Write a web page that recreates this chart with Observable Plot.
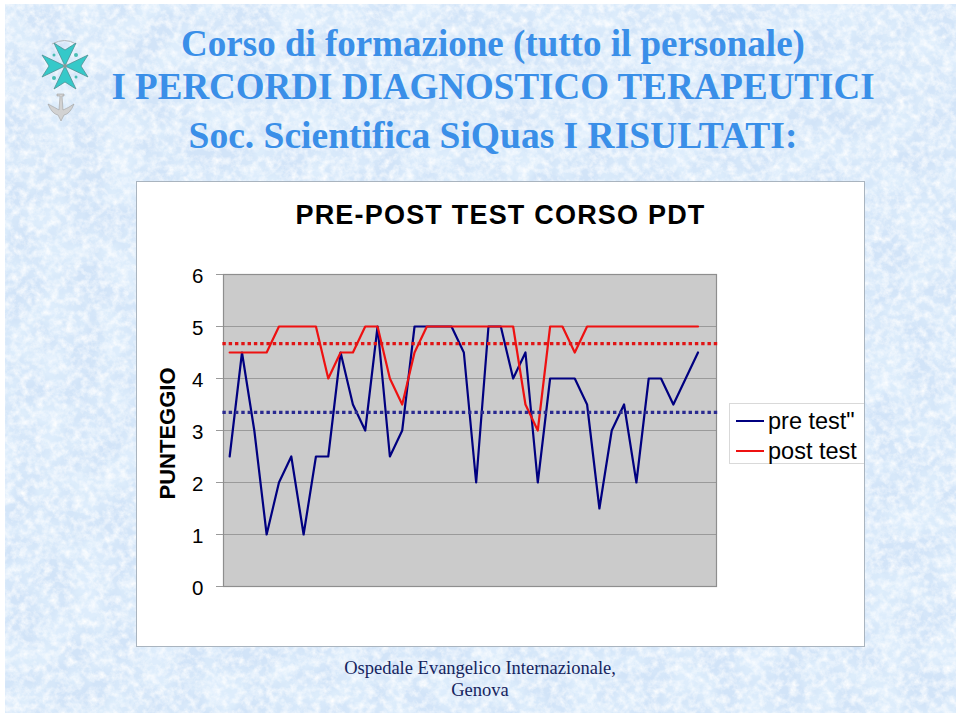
<!DOCTYPE html>
<html lang="it">
<head>
<meta charset="utf-8">
<script src="https://cdn.jsdelivr.net/npm/d3@7"></script>
<script src="https://cdn.jsdelivr.net/npm/@observablehq/plot@0.6"></script>
<style>
  html, body { margin: 0; padding: 0; background: #fff; }
  #page { position: relative; width: 960px; height: 716px; overflow: hidden; background: #fff; }
  #paper { position: absolute; left: 5px; top: 4px; }
  .head { position: absolute; left: 13px; width: 960px; text-align: center; white-space: nowrap;
          font-family: "Liberation Serif", serif; font-weight: bold; color: #3a8fe8; line-height: 1; }
  .foot { position: absolute; left: 0; width: 960px; text-align: center; white-space: nowrap;
          font-family: "Liberation Serif", serif; font-size: 18.5px; color: #16245e; line-height: 1; }
  #logo { position: absolute; left: 30px; top: 30px; }
  #box { position: absolute; left: 137px; top: 182px; width: 727px; height: 464px; background: #fff;
         box-shadow: 0 0 0 1px #a9b4bf; }
  #box svg { position: absolute; left: 0; top: 0; }
  #chartTitle { position: absolute; left: 0; top: 17px; width: 727px; text-align: center; letter-spacing: 1.2px;
         font: bold 27px "Liberation Sans", Arial, sans-serif; color: #000; line-height: 1.2; }
  #legend { position: absolute; left: 592px; top: 221px; width: 135px; height: 61px; background: #fff;
         border: 1px solid #d9d9d9; border-right: none; box-sizing: border-box; font: 23.5px "Liberation Sans", Arial, sans-serif; color: #000; }
  #legend div { position: absolute; left: 38px; line-height: 1; white-space: nowrap; }
  #legend i { position: absolute; left: 6px; width: 28px; height: 2px; }
</style>
</head>
<body>
<div id="page">
  <svg id="paper" width="951" height="709">
    <filter id="marble" x="0" y="0" width="100%" height="100%">
      <feTurbulence type="fractalNoise" baseFrequency="0.13" numOctaves="4" seed="7"/>
      <feColorMatrix type="matrix" values="0 0 0 0 1  0 0 0 0 1  0 0 0 0 1  1.7 0 0 0 -0.62"/>
    </filter>
    <filter id="blotch" x="0" y="0" width="100%" height="100%">
      <feTurbulence type="fractalNoise" baseFrequency="0.03" numOctaves="4" seed="19"/>
      <feColorMatrix type="matrix" values="0 0 0 0 0.73  0 0 0 0 0.85  0 0 0 0 0.97  0 2.6 0 0 -0.85"/>
    </filter>
    <rect width="951" height="709" fill="#d2e4f8"/>
    <rect width="951" height="709" filter="url(#blotch)"/>
    <rect width="951" height="709" filter="url(#marble)"/>
  </svg>

  <svg id="logo" width="70" height="100" viewBox="30 30 70 100">
    <path d="M52 44 Q65 37 76 44" fill="none" stroke="#b5b9bd" stroke-width="1"/>
    <g fill="#35c9c9" stroke="#4f8f93" stroke-width="0.8">
      <path transform="rotate(0 65 66)" d="M65 66 L76 43 L65 50 L54 43 Z"/>
      <path transform="rotate(90 65 66)" d="M65 66 L76 43 L65 50 L54 43 Z"/>
      <path transform="rotate(180 65 66)" d="M65 66 L76 43 L65 50 L54 43 Z"/>
      <path transform="rotate(270 65 66)" d="M65 66 L76 43 L65 50 L54 43 Z"/>
    </g>
    <circle cx="65" cy="66" r="2" fill="#8a9a9a"/>
    <g fill="#48bdb4">
      <circle cx="76" cy="55" r="2"/><circle cx="54" cy="78" r="2"/>
      <circle cx="54" cy="55" r="1.5"/><circle cx="76" cy="77" r="1.5"/>
    </g>
    <g fill="#d2d2d2" stroke="#a0a0a0" stroke-width="0.6">
      <path d="M48 104 Q56 108 59 110 L60 96 L57 96 L57 94 L64 94 L64 96 L62 96 L63 110 Q68 108 74 104 Q70 114 64 115 L61 121 L58 115 Q52 114 48 104 Z"/>
    </g>
  </svg>

  <div class="head" style="top:25px;font-size:37px">Corso di formazione (tutto il personale)</div>
  <div class="head" style="top:68px;font-size:37px">I PERCORDI DIAGNOSTICO TERAPEUTICI</div>
  <div class="head" style="top:117px;font-size:37.5px">Soc. Scientifica SiQuas I RISULTATI:</div>

  <div id="box">
    <div id="chartTitle">PRE-POST TEST CORSO PDT</div>
    <div id="legend">
      <i style="top:16px;background:#000080"></i><div style="top:6px">pre test"</div>
      <i style="top:46px;background:#ee1111"></i><div style="top:36px">post test</div>
    </div>
  </div>

  <div class="foot" style="top:659px">Ospedale Evangelico Internazionale,</div>
  <div class="foot" style="top:681px">Genova</div>
</div>

<script>
const preTest = [2.5,4.5,3,1,2,2.5,1,2.5,2.5,4.5,3.5,3,5,2.5,3,5,5,5,5,4.5,2,5,5,4,4.5,2,4,4,4,3.5,1.5,3,3.5,2,4,4,3.5,4,4.5];
const postTest = [4.5,4.5,4.5,4.5,5,5,5,5,4,4.5,4.5,5,5,4,3.5,4.5,5,5,5,5,5,5,5,5,3.5,3,5,5,4.5,5,5,5,5,5,5,5,5,5,5];
const meanPre = 3.35;
const meanPost = 4.67;
const yTicks = [0,1,2,3,4,5,6];
const slots = 40;
const seriesColors = {pre: "#000080", post: "#ee1111"};

const rows = preTest.map((pre, i) => ({i, pre, post: postTest[i]}));

const chart = Plot.plot({
  width: 727,
  height: 464,
  marginLeft: 86,
  marginRight: 148,
  marginTop: 92,
  marginBottom: 60,
  style: {background: "transparent", overflow: "visible"},
  x: {domain: [-0.5, slots - 0.5], axis: null},
  y: {domain: [0, 6], ticks: yTicks},
  marks: [
    Plot.frame({fill: "#cbcbcb", stroke: "none"}),
    Plot.gridY(yTicks, {stroke: "#9a9a9a", strokeOpacity: 1, strokeWidth: 1}),
    Plot.frame({stroke: "#8e8e8e", strokeWidth: 1.2}),
    Plot.axisY(yTicks, {
      tickSize: 7, stroke: "#9a9a9a", label: null, text: null
    }),
    Plot.axisY(yTicks, {
      tickSize: 0, tickPadding: 20, label: null, tickFormat: "d", dy: 1.5,
      fontSize: 20.5, fontFamily: "Liberation Sans, Arial, sans-serif", fill: "#000"
    }),
    Plot.text(["PUNTEGGIO"], {
      frameAnchor: "left", textAnchor: "middle", lineAnchor: "middle", rotate: -90, dx: -56, dy: 3,
      fontSize: 22, fontWeight: "bold", fontFamily: "Liberation Sans, Arial, sans-serif", fill: "#000"
    }),
    Plot.line(rows, {x: "i", y: "pre", stroke: seriesColors.pre, strokeWidth: 2.2, curve: "linear"}),
    Plot.line(rows, {x: "i", y: "post", stroke: seriesColors.post, strokeWidth: 2.2, curve: "linear"}),
    Plot.ruleY([meanPre], {x1: -0.55, x2: slots - 0.25, stroke: "#2a2a90", strokeWidth: 3.2, strokeDasharray: "3.4 2.9"}),
    Plot.ruleY([meanPost], {x1: -0.55, x2: slots - 0.25, stroke: "#e01515", strokeWidth: 3.2, strokeDasharray: "3.4 2.9"})
  ]
});
document.getElementById("box").insertBefore(chart, document.getElementById("chartTitle"));
</script>
</body>
</html>
